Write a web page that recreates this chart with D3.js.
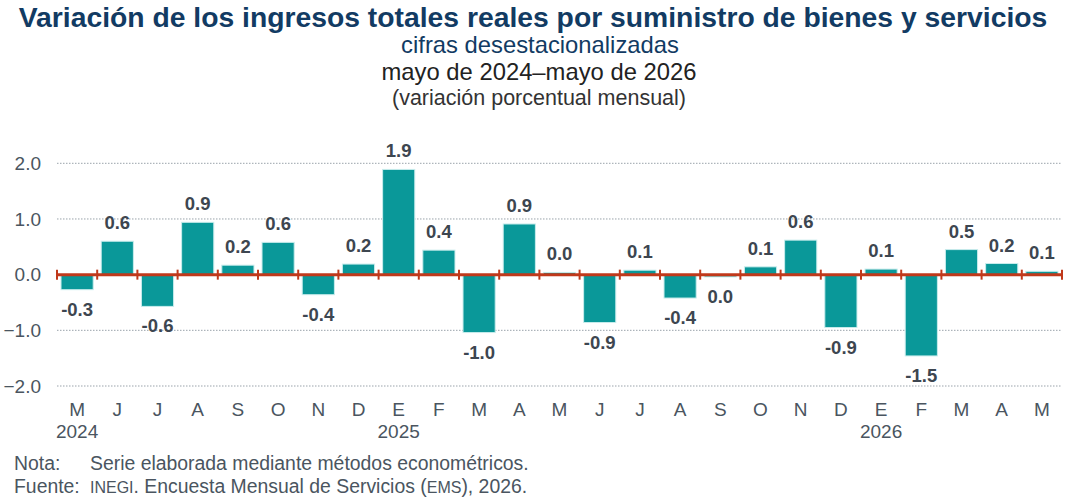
<!DOCTYPE html>
<html><head><meta charset="utf-8">
<script src="https://cdn.jsdelivr.net/npm/d3@7"></script>
<style>body{margin:0;background:#fff;font-family:"Liberation Sans",Arial,sans-serif;}</style>
</head><body>
<svg id="chart" width="1068" height="498"></svg>
<script>
const months = ["M","J","J","A","S","O","N","D","E","F","M","A","M","J","J","A","S","O","N","D","E","F","M","A","M"];
const years = [{i:0,label:"2024"},{i:8,label:"2025"},{i:20,label:"2026"}];
const values = [-0.27,0.60,-0.57,0.94,0.17,0.58,-0.36,0.19,1.89,0.44,-1.04,0.91,0.04,-0.86,0.08,-0.42,-0.04,0.14,0.62,-0.95,0.10,-1.46,0.45,0.20,0.06];
const labels = ["-0.3","0.6","-0.6","0.9","0.2","0.6","-0.4","0.2","1.9","0.4","-1.0","0.9","0.0","-0.9","0.1","-0.4","0.0","0.1","0.6","-0.9","0.1","-1.5","0.5","0.2","0.1"];
const yTicks = [-2,-1,0,1,2];

const svg = d3.select("#chart");
const x = d3.scaleBand().domain(d3.range(months.length)).range([57,1062]).paddingInner(0.2).paddingOuter(0.1);
const y = d3.scaleLinear().domain([-2,2]).range([386,163.3]);

// titles
const t = svg.append("g").attr("text-anchor","middle");
t.append("text").attr("x",533).attr("y",27).attr("font-size",28.3).attr("font-weight","bold").attr("fill","#123b63").text("Variación de los ingresos totales reales por suministro de bienes y servicios");
t.append("text").attr("x",540).attr("y",53).attr("font-size",23.8).attr("fill","#123b63").text("cifras desestacionalizadas");
t.append("text").attr("x",539).attr("y",80).attr("font-size",23.8).attr("fill","#222").text("mayo de 2024–mayo de 2026");
t.append("text").attr("x",539).attr("y",105).attr("font-size",21.5).attr("fill","#333").text("(variación porcentual mensual)");

// grid
svg.append("g").selectAll("line").data(yTicks.filter(d=>d!==0)).join("line")
  .attr("x1",57).attr("x2",1062).attr("y1",d=>y(d)).attr("y2",d=>y(d))
  .attr("stroke","#9aa3ab").attr("stroke-width",1).attr("stroke-dasharray","1.5,1.5");

// y axis labels
const yAxis = d3.axisLeft(y).tickValues(yTicks).tickFormat(d3.format(".1f")).tickSize(0).tickPadding(0);
const ya = svg.append("g").attr("transform","translate(41,0)").call(yAxis);
ya.select(".domain").remove();
ya.selectAll("text").attr("font-size",19).attr("fill","#4a5560").attr("font-family","Liberation Sans, Arial, sans-serif");

// bars
svg.append("g").selectAll("rect").data(values).join("rect")
  .attr("x",(d,i)=>x(i)).attr("width",x.bandwidth())
  .attr("y",d=>y(Math.max(0,d))).attr("height",d=>Math.abs(y(d)-y(0)))
  .attr("fill","#0a9899").attr("stroke","#c8ecec").attr("stroke-width",1);

// zero axis
const edges = d3.range(months.length+1).map(i=> i<months.length ? x(i)-x.step()*x.paddingInner()/2 : x(months.length-1)+x.bandwidth()+x.step()*x.paddingInner()/2);
svg.append("line").attr("x1",edges[0]).attr("x2",edges[edges.length-1]).attr("y1",y(0)).attr("y2",y(0)).attr("stroke","#c0391b").attr("stroke-width",3);
svg.append("g").selectAll("line").data(edges).join("line")
  .attr("x1",d=>d).attr("x2",d=>d).attr("y1",y(0)-5).attr("y2",y(0)+5).attr("stroke","#c0391b").attr("stroke-width",2);

// value labels
svg.append("g").selectAll("text").data(values).join("text")
  .attr("x",(d,i)=>x(i)+x.bandwidth()/2)
  .attr("y",d=> d>=0 ? y(d)-12 : y(d)+26)
  .attr("text-anchor","middle").attr("font-size",18.5).attr("font-weight","bold").attr("fill","#3d4650")
  .text((d,i)=>labels[i]);

// x labels
svg.append("g").selectAll("text").data(months).join("text")
  .attr("x",(d,i)=>x(i)+x.bandwidth()/2).attr("y",416)
  .attr("text-anchor","middle").attr("font-size",19).attr("fill","#4a5560").text(d=>d);
svg.append("g").selectAll("text").data(years).join("text")
  .attr("x",d=>x(d.i)+x.bandwidth()/2).attr("y",438)
  .attr("text-anchor","middle").attr("font-size",19).attr("fill","#4a5560").text(d=>d.label);

// notes
const n = svg.append("g").attr("font-size",19.4).attr("fill","#4a5560");
n.append("text").attr("x",14).attr("y",470).text("Nota:");
n.append("text").attr("x",90).attr("y",470).text("Serie elaborada mediante métodos econométricos.");
const f = n.append("text").attr("x",14).attr("y",493);
f.append("tspan").text("Fuente:");
f.append("tspan").attr("x",90).attr("font-size",16).text("INEGI");
f.append("tspan").text(". Encuesta Mensual de Servicios (");
f.append("tspan").attr("font-size",16).text("EMS");
f.append("tspan").text("), 2026.");
</script>
</body></html>
